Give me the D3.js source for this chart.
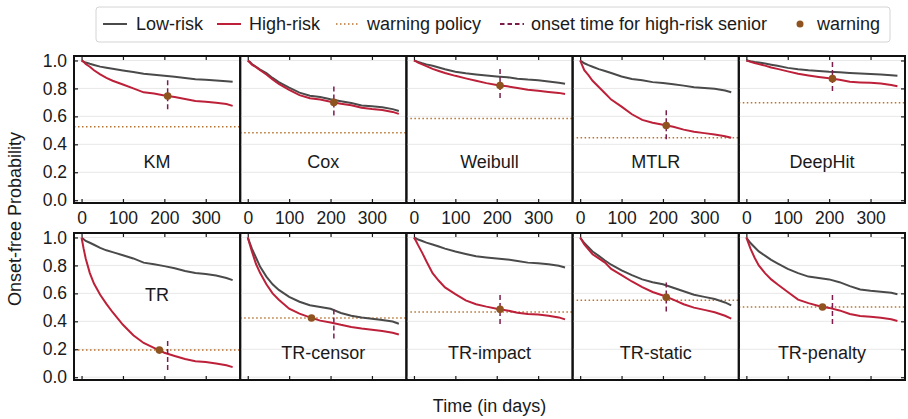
<!DOCTYPE html>
<html>
<head>
<meta charset="utf-8">
<script src="https://cdn.jsdelivr.net/npm/d3@7"></script>
<style>
  body { margin: 0; background: #fff; }
  text { font-family: "Liberation Sans", Arial, sans-serif; fill: #1a1a1a; }
</style>
</head>
<body>
<script>
// sampled days (shared by every curve)
var days = [0, 5, 10, 20, 30, 45, 60, 75, 100, 125, 150, 175, 200, 225, 250, 275, 300, 325, 350, 365];

var models = ["KM", "Cox", "Weibull", "MTLR", "DeepHit",
              "TR", "TR-censor", "TR-impact", "TR-static", "TR-penalty"];

var lowRisk = [
  [1.0, .992, .985, .976, .968, .956, .948, .94, .928, .917, .905, .898, .89, .883, .875, .866, .862, .857, .851, .847],
  [1.0, .99, .975, .955, .935, .91, .875, .845, .805, .77, .748, .738, .722, .708, .695, .678, .672, .665, .652, .638],
  [1.0, .995, .99, .98, .972, .962, .95, .937, .92, .908, .9, .893, .886, .88, .87, .863, .858, .85, .84, .834],
  [1.0, .99, .98, .967, .955, .938, .925, .91, .885, .868, .858, .845, .838, .83, .82, .808, .803, .797, .785, .772],
  [1.0, .998, .995, .99, .986, .978, .97, .962, .947, .937, .93, .925, .919, .915, .91, .906, .903, .9, .895, .89],
  [1.0, .988, .975, .962, .948, .925, .908, .895, .873, .85, .82, .808, .795, .78, .76, .745, .738, .728, .71, .695],
  [1.0, .96, .92, .855, .79, .72, .665, .625, .575, .54, .515, .503, .49, .46, .44, .428, .418, .41, .398, .383],
  [1.0, .993, .985, .975, .963, .95, .935, .92, .9, .882, .865, .857, .85, .843, .832, .82, .815, .808, .797, .785],
  [1.0, .98, .96, .93, .9, .868, .835, .805, .765, .73, .7, .68, .665, .64, .615, .59, .575, .56, .535, .514],
  [1.0, .98, .96, .93, .9, .87, .84, .815, .775, .745, .72, .71, .7, .68, .652, .628, .618, .612, .604, .593]
];

var highRisk = [
  [1.0, .99, .975, .955, .93, .9, .875, .855, .828, .80, .772, .763, .75, .738, .725, .71, .705, .697, .688, .675],
  [1.0, .985, .97, .952, .93, .9, .865, .832, .79, .752, .73, .72, .705, .69, .68, .662, .652, .645, .632, .618],
  [1.0, .993, .985, .972, .96, .94, .925, .91, .89, .872, .855, .838, .824, .815, .803, .79, .783, .775, .768, .76],
  [1.0, .965, .93, .895, .855, .81, .765, .72, .67, .615, .575, .555, .54, .525, .505, .49, .48, .47, .458, .447],
  [1.0, .995, .99, .982, .974, .963, .95, .94, .922, .905, .893, .882, .872, .862, .847, .843, .84, .835, .825, .815],
  [1.0, .92, .85, .745, .67, .59, .525, .465, .375, .3, .245, .21, .175, .152, .13, .115, .108, .098, .085, .072],
  [1.0, .95, .9, .81, .745, .665, .6, .555, .49, .455, .428, .405, .392, .375, .36, .348, .34, .33, .318, .306],
  [1.0, .975, .945, .89, .83, .745, .69, .643, .595, .55, .522, .505, .49, .478, .462, .452, .448, .44, .428, .414],
  [1.0, .975, .95, .915, .88, .85, .82, .775, .73, .685, .645, .61, .585, .555, .522, .498, .482, .465, .44, .419],
  [1.0, .96, .92, .855, .8, .745, .7, .665, .61, .555, .53, .51, .496, .478, .452, .438, .432, .426, .415, .402]
];

var policyLevel = [.525, .483, .584, .447, .698, .194, .423, .466, .55, .502];
var warnDay = [208, 208, 208, 208, 208, 188, 154, 208, 208, 184];
var warnProb = [.745, .70, .82, .535, .87, .194, .424, .486, .572, .502];
var onsetDay = 208;
var onsetProb = [.755, .71, .835, .54, .885, .155, .38, .484, .573, .485];

var xTicks = [0, 100, 200, 300];
var yTicks = [0, 0.2, 0.4, 0.6, 0.8, 1.0];

// where the model name sits (in probability units)
var labelAt = [.27, .27, .27, .27, .27, .59, .17, .17, .17, .17];

var c = {
  low: "#4a4a4a", high: "#bd2039", policy: "#b8732f",
  onset: "#7a1d4c", dot: "#8f5320"
};

var W = 908, H = 419;
var pw = 166.2, ph = 147, left = 74, rowTop = [56, 233];

var svg = d3.select("body").append("svg")
  .attr("width", W).attr("height", H);

var x = d3.scaleLinear().domain([-18.25, 383.25]).range([0, pw]);
var y = d3.scaleLinear().domain([-0.02, 1.032]).range([ph, 0]);

var line = d3.line()
  .x(function (d, j) { return x(days[j]); })
  .y(function (d) { return y(d); });

models.forEach(function (name, i) {
  var row = i < 5 ? 0 : 1, col = i % 5;
  var g = svg.append("g")
    .attr("transform", "translate(" + (left + col * pw) + "," + rowTop[row] + ")");

  // grid
  g.selectAll(".grid").data(yTicks).enter().append("line")
    .attr("x1", 0).attr("x2", pw)
    .attr("y1", y).attr("y2", y)
    .attr("stroke", "#e8e8e8").attr("stroke-width", 1);

  // warning policy
  g.append("line")
    .attr("x1", 0).attr("x2", pw)
    .attr("y1", y(policyLevel[i])).attr("y2", y(policyLevel[i]))
    .attr("stroke", c.policy).attr("stroke-width", 1.5)
    .attr("stroke-dasharray", "1.5,2.5");

  g.append("path").attr("d", line(lowRisk[i]))
    .attr("fill", "none").attr("stroke", c.low).attr("stroke-width", 2);
  g.append("path").attr("d", line(highRisk[i]))
    .attr("fill", "none").attr("stroke", c.high).attr("stroke-width", 2);

  // onset marker
  g.append("line")
    .attr("x1", x(onsetDay)).attr("x2", x(onsetDay))
    .attr("y1", y(onsetProb[i] + 0.104)).attr("y2", y(onsetProb[i] - 0.104))
    .attr("stroke", c.onset).attr("stroke-width", 1.5)
    .attr("stroke-dasharray", "5,3");

  g.append("circle")
    .attr("cx", x(warnDay[i])).attr("cy", y(warnProb[i]))
    .attr("r", 3.8).attr("fill", c.dot);

  // axes with inward ticks
  var bottom = g.append("g").attr("transform", "translate(0," + ph + ")")
    .call(d3.axisBottom(x).tickValues(xTicks).tickSize(-4).tickPadding(9)
      .tickFormat(row === 0 ? d3.format("d") : function () { return ""; }));
  var top = g.append("g")
    .call(d3.axisTop(x).tickValues(xTicks).tickSize(-4).tickFormat(""));
  [bottom, top].forEach(function (a) {
    a.select(".domain").remove();
    a.selectAll("line").attr("stroke", "#1a1a1a").attr("stroke-width", 1.2);
  });
  bottom.selectAll("text").style("font-size", "17.5px")
    .style("font-family", "'Liberation Sans', Arial, sans-serif").attr("fill", "#1a1a1a");

  if (col === 0) {
    var ly = g.append("g")
      .call(d3.axisLeft(y).tickValues(yTicks).tickSize(-4).tickPadding(7)
        .tickFormat(d3.format(".1f")));
    ly.select(".domain").remove();
    ly.selectAll("line").attr("stroke", "#1a1a1a").attr("stroke-width", 1.2);
    ly.selectAll("text").style("font-size", "17.5px")
      .style("font-family", "'Liberation Sans', Arial, sans-serif").attr("fill", "#1a1a1a");
  }
  if (col === 4) {
    var ry = g.append("g").attr("transform", "translate(" + pw + ",0)")
      .call(d3.axisRight(y).tickValues(yTicks).tickSize(-4).tickFormat(""));
    ry.select(".domain").remove();
    ry.selectAll("line").attr("stroke", "#1a1a1a").attr("stroke-width", 1.2);
  }

  g.append("rect")
    .attr("width", pw).attr("height", ph)
    .attr("fill", "none").attr("stroke", "#111").attr("stroke-width", 2);

  g.append("text")
    .attr("x", pw / 2).attr("y", y(labelAt[i]))
    .attr("text-anchor", "middle").attr("dominant-baseline", "central")
    .style("font-size", "18px")
    .text(name);
});

// axis titles
svg.append("text")
  .attr("transform", "translate(15,219) rotate(-90)")
  .attr("text-anchor", "middle").attr("dominant-baseline", "central")
  .style("font-size", "18px")
  .text("Onset-free Probability");

svg.append("text")
  .attr("x", left + 2.5 * pw).attr("y", 406)
  .attr("text-anchor", "middle").attr("dominant-baseline", "central")
  .style("font-size", "18px")
  .text("Time (in days)");

// legend
var leg = svg.append("g");
leg.append("rect")
  .attr("x", 96).attr("y", 7).attr("width", 794).attr("height", 35)
  .attr("rx", 3).attr("fill", "#fff").attr("stroke", "#d4d4d4").attr("stroke-width", 1);

var legItems = [
  { label: "Low-risk", kind: "line", color: c.low, dash: null, x: 103, tx: 136 },
  { label: "High-risk", kind: "line", color: c.high, dash: null, x: 217, tx: 249 },
  { label: "warning policy", kind: "line", color: c.policy, dash: "1.5,2.5", x: 336, tx: 367 },
  { label: "onset time for high-risk senior", kind: "line", color: c.onset, dash: "4.5,3", x: 500, tx: 531 },
  { label: "warning", kind: "dot", color: c.dot, x: 800, tx: 817 }
];

legItems.forEach(function (d) {
  if (d.kind === "line") {
    leg.append("line")
      .attr("x1", d.x).attr("x2", d.x + 24).attr("y1", 24).attr("y2", 24)
      .attr("stroke", d.color).attr("stroke-width", d.dash && d.dash[0] === "1" ? 1.5 : 2)
      .attr("stroke-dasharray", d.dash);
  } else {
    leg.append("circle").attr("cx", d.x).attr("cy", 24).attr("r", 3.5).attr("fill", d.color);
  }
  leg.append("text")
    .attr("x", d.tx).attr("y", 24)
    .attr("dominant-baseline", "central")
    .style("font-size", "18px")
    .text(d.label);
});
</script>
</body>
</html>
